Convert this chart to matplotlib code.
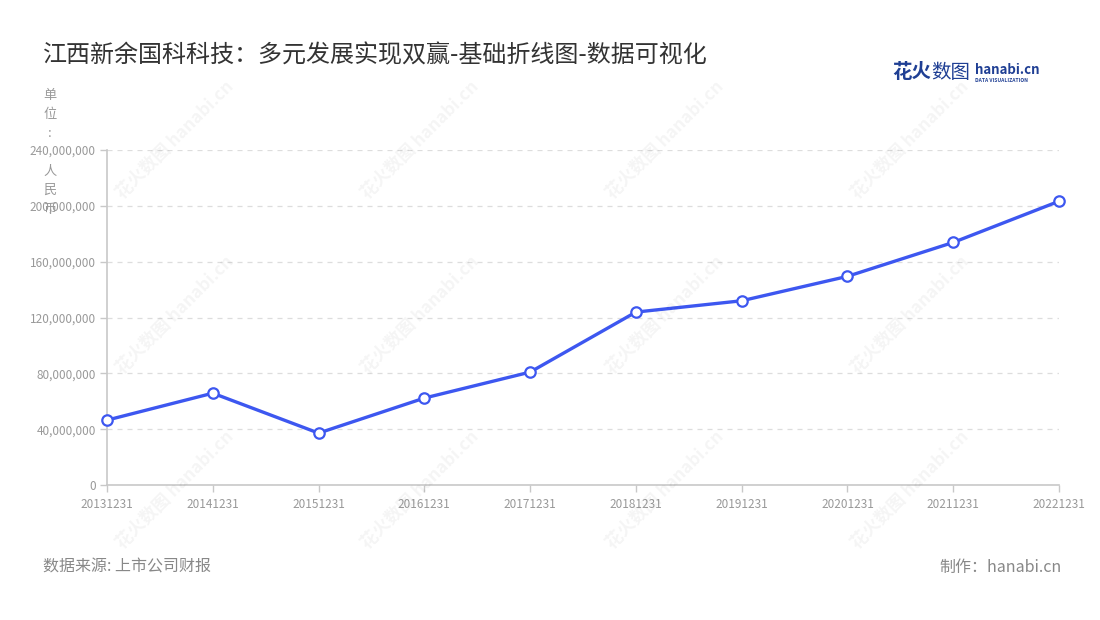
import matplotlib
matplotlib.use('Agg')
import matplotlib.pyplot as plt
from matplotlib.ticker import FuncFormatter

plt.rcParams['font.family'] = ['Noto Sans CJK SC', 'DejaVu Sans']

# =============================================================================
# Data
# =============================================================================
dates = ['20131231', '20141231', '20151231', '20161231', '20171231',
         '20181231', '20191231', '20201231', '20211231', '20221231']
revenue = [46.5e6, 65.8e6, 37.2e6, 62.3e6, 80.9e6,
           123.9e6, 132.0e6, 149.5e6, 173.8e6, 203.3e6]
y_ticks = [0, 40e6, 80e6, 120e6, 160e6, 200e6, 240e6]

title = '江西新余国科科技：多元发展实现双赢-基础折线图-数据可视化'
unit_label = '单位: 人民币'
source_text = '数据来源: 上市公司财报'
credit_text = '制作：hanabi.cn'

LINE = '#3d57f0'
TICK = '#999999'
GRID = '#dddddd'

# =============================================================================
# Figure
# =============================================================================
fig = plt.figure(figsize=(11, 6.2), dpi=100)
ax = fig.add_axes([0.0973, 0.2177, 0.8654, 0.5403])

# watermarks
for cx in [175, 420, 665, 910]:
    for cy in [140, 315, 490]:
        fig.text(cx / 1100, 1 - cy / 620, '花火数图 hanabi.cn', rotation=45,
                 ha='center', va='center', fontsize=12.5, fontweight='bold',
                 color='#000000', alpha=0.045, zorder=0)

x = range(len(dates))
ax.plot(x, revenue, color=LINE, lw=2.4, marker='o', markersize=7.5,
        markerfacecolor='white', markeredgecolor=LINE, markeredgewidth=1.6,
        zorder=3, clip_on=False)

ax.set_xlim(0, len(dates) - 1)
ax.set_ylim(0, 240e6)
ax.set_xticks(list(x))
ax.set_xticklabels(dates)
ax.set_yticks(y_ticks)
ax.yaxis.set_major_formatter(FuncFormatter(lambda v, p: f'{int(v):,}'))

ax.grid(axis='y', color=GRID, linestyle=(0, (4, 4)), lw=0.9)
ax.set_axisbelow(True)
for s in ['top', 'right']:
    ax.spines[s].set_visible(False)
for s in ['left', 'bottom']:
    ax.spines[s].set_color('#c8c8c8')
    ax.spines[s].set_linewidth(1.2)
ax.tick_params(axis='both', colors='#c8c8c8', labelcolor=TICK,
               labelsize=8.5, length=5, width=1)
ax.tick_params(axis='x', pad=4)
ax.tick_params(axis='y', pad=3)
ax.patch.set_alpha(0)

# vertical unit label, one character per line
fig.text(50 / 1100, 1 - 89 / 620, '\n'.join(unit_label), ha='center', va='top',
         fontsize=9.5, color=TICK, linespacing=1.6)

# title and footer
fig.text(43 / 1100, 1 - 55 / 620, title, ha='left', va='center',
         fontsize=17.3, color='#333333')
fig.text(43 / 1100, 1 - 567 / 620, source_text, ha='left', va='center',
         fontsize=11.5, color='#888888')
fig.text(1062 / 1100, 1 - 567 / 620, credit_text, ha='right', va='center',
         fontsize=11.5, color='#888888')

# logo
fig.text(892 / 1100, 1 - 73 / 620, '花火', ha='left', va='center',
         fontsize=14, fontweight='bold', color='#1f3f94')
fig.text(931 / 1100, 1 - 73 / 620, '数图', ha='left', va='center',
         fontsize=14, color='#1f3f94')
fig.text(975 / 1100, 1 - 70 / 620, 'hanabi.cn', ha='left', va='center',
         fontsize=9.5, fontweight='bold', color='#1f3f94')
fig.text(975 / 1100, 1 - 81 / 620, 'DATA VISUALIZATION', ha='left', va='center',
         fontsize=3.6, fontweight='bold', color='#1f3f94')

fig.savefig('out.png', dpi=100)
